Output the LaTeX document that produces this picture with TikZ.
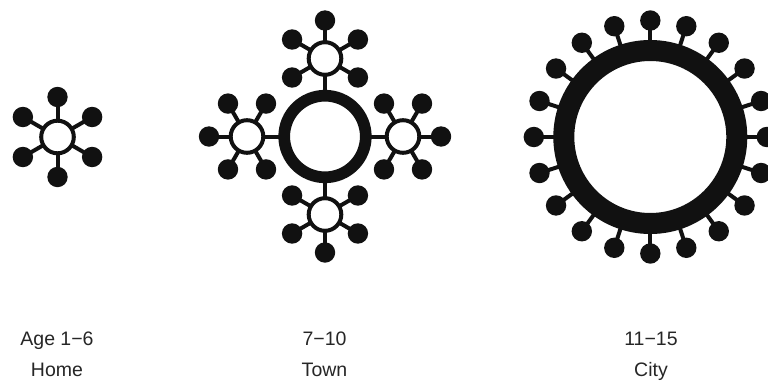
\documentclass[tikz,border=0pt]{standalone}
\usepackage{fontspec}
\setmainfont{Liberation Sans}
\usetikzlibrary{positioning}
\definecolor{iconink}{RGB}{17,17,17}
\definecolor{labelink}{RGB}{38,38,38}
\tikzset{
  hubring/.style={circle, draw=iconink, fill=white, line width=4pt,
    inner sep=0pt, minimum size=32.6pt},
  townring/.style={circle, draw=iconink, fill=white, line width=11.7pt,
    inner sep=0pt, minimum size=81.6pt},
  cityring/.style={circle, draw=iconink, fill=white, line width=21pt,
    inner sep=0pt, minimum size=173pt},
  knob/.style={circle, fill=iconink, inner sep=0pt, minimum size=20.4pt},
  spoke/.style={draw=iconink, line width=4pt, shorten <=-1pt, shorten >=-1pt},
  agelabel/.style={anchor=base, text=labelink, inner sep=0pt,
    font=\fontsize{19.5}{23}\selectfont},
}

\begin{document}
\begin{tikzpicture}[x=1pt, y=-1pt]
  \useasboundingbox (0,0) rectangle (768,383);
  \fill[white] (0,0) rectangle (768,383);
  \clip (0,0) rectangle (768,383);
  % home
  \node[hubring] (home) at (57.5,137) {};
  \foreach \k in {0,...,5} {
    \node[knob] (home-\k) at ([shift={({90+60*\k}:40)}]home.center) {};
    \draw[spoke] (home) -- (home-\k);
  }
  % town
  \node[townring] (town) at (325,136.5) {};
  \foreach \dir/\side in {270/top, 0/right, 90/bottom, 180/left} {
    \node[hubring] (town-\side) at ([shift={(\dir:78)}]town.center) {};
    \draw[spoke] (town) -- (town-\side);
    \foreach \k in {0,1,2,4,5} {
      \node[knob] (town-\side-\k) at ([shift={({\dir+60*\k}:38)}]town-\side.center) {};
      \draw[spoke] (town-\side) -- (town-\side-\k);
    }
  }
  % city
  \node[cityring] (city) at (650.3,137) {};
  \foreach \k in {0,...,19} {
    \node[knob] (city-\k) at ([shift={({90+18*\k}:116.5)}]city.center) {};
    \draw[spoke] (city) -- (city-\k);
  }
  % labels
  \node[agelabel] (home-age) at (57,345) {Age 1−6};
  \node[agelabel] (home-name) at (57,376) {Home};
  \node[agelabel] (town-age) at (324.5,345) {7−10};
  \node[agelabel] (town-name) at (324.5,376) {Town};
  \node[agelabel] (city-age) at (651,345) {11−15};
  \node[agelabel] (city-name) at (651,376) {City};
\end{tikzpicture}
\end{document}
